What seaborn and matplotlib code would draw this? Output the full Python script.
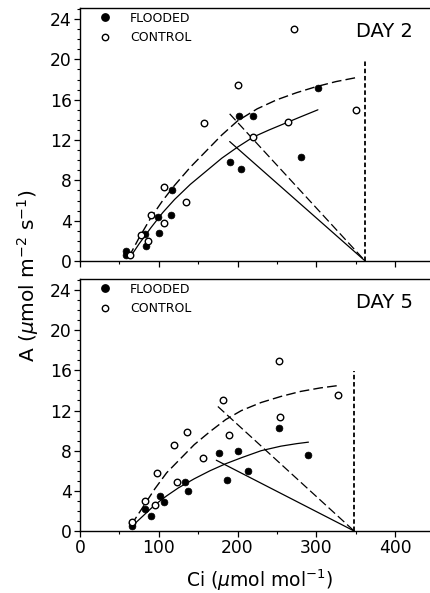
import matplotlib
matplotlib.use("Agg")
import matplotlib.pyplot as plt
from matplotlib.lines import Line2D
from matplotlib.ticker import MultipleLocator
import seaborn as sns

# ---------------- data ----------------
# Day 2 observations
d2_flood_ci = [59, 59, 82, 84, 99, 100, 115, 117, 190, 205, 202, 219, 280, 302]
d2_flood_a = [1.0, 0.6, 2.65, 1.5, 4.4, 2.75, 4.6, 7.0, 9.8, 9.1, 14.35, 14.4, 10.3, 17.15]
d2_ctrl_ci = [63, 78, 86, 90, 106, 107, 134, 157, 201, 220, 264, 272, 351]
d2_ctrl_a = [0.6, 2.55, 2.0, 4.55, 3.75, 7.35, 5.85, 13.65, 17.5, 12.3, 13.8, 23.0, 15.0]

# Day 5 observations
d5_flood_ci = [66, 66, 83, 90, 102, 107, 133, 137, 177, 186, 201, 213, 253, 290]
d5_flood_a = [0.45, 0.75, 2.15, 1.5, 3.5, 2.85, 4.85, 3.95, 7.8, 5.05, 7.95, 5.95, 10.25, 7.55]
d5_ctrl_ci = [66, 83, 95, 98, 119, 123, 136, 156, 181, 189, 253, 254, 328]
d5_ctrl_a = [0.85, 3.0, 2.6, 5.75, 8.55, 4.85, 9.9, 7.25, 13.0, 9.55, 16.9, 11.4, 13.5]

# fitted response curves
d2_ctrl_fit_ci = [62, 75, 90, 105, 120, 140, 160, 180, 200, 225, 250, 275, 300, 325, 351]
d2_ctrl_fit_a = [0.4, 2.3, 4.3, 6.0, 7.5, 9.3, 10.9, 12.5, 13.9, 15.1, 16.0, 16.7, 17.3, 17.8, 18.2]
d2_flood_fit_ci = [63, 75, 90, 105, 120, 140, 160, 180, 200, 220, 240, 260, 280, 302]
d2_flood_fit_a = [0.3, 1.7, 3.3, 4.8, 6.1, 7.6, 8.9, 10.2, 11.3, 12.3, 13.0, 13.65, 14.3, 15.0]
d5_ctrl_fit_ci = [65, 80, 95, 110, 125, 145, 165, 185, 205, 230, 255, 280, 305, 329]
d5_ctrl_fit_a = [0.6, 2.4, 4.2, 5.8, 7.0, 8.6, 9.9, 11.1, 12.0, 12.8, 13.4, 13.9, 14.25, 14.5]
d5_flood_fit_ci = [65, 80, 95, 110, 125, 145, 165, 185, 205, 230, 255, 275, 290]
d5_flood_fit_a = [0.4, 1.5, 2.6, 3.5, 4.3, 5.2, 6.0, 6.7, 7.3, 8.0, 8.45, 8.7, 8.85]

# supply functions (start point, Ca intercept)
d2_ctrl_supply_ci = [190, 362]
d2_ctrl_supply_a = [14.6, 0]
d2_flood_supply_ci = [190, 362]
d2_flood_supply_a = [11.85, 0]
d5_ctrl_supply_ci = [175, 348]
d5_ctrl_supply_a = [12.4, 0]
d5_flood_supply_ci = [173, 348]
d5_flood_supply_a = [7.05, 0]

# ambient CO2 markers
d2_ca = 362
d2_ca_top = 20.0
d5_ca = 348
d5_ca_top = 15.9

panel_titles = ["DAY 2", "DAY 5"]
legend_labels = ["FLOODED", "CONTROL"]
x_ticks = [0, 100, 200, 300, 400]
y_ticks = [0, 4, 8, 12, 16, 20, 24]

# ---------------- style ----------------
sns.set_style("ticks")
plt.rcParams["font.family"] = ["DejaVu Sans"]
plt.rcParams["mathtext.fontset"] = "dejavusans"
plt.rcParams["mathtext.default"] = "regular"
plt.rcParams["text.color"] = "black"
plt.rcParams["axes.labelcolor"] = "black"
plt.rcParams["xtick.color"] = "black"
plt.rcParams["ytick.color"] = "black"
plt.rcParams["axes.edgecolor"] = "black"

W, H = 430, 593
fig = plt.figure(figsize=(W / 100, H / 100), dpi=100)

left = 80 / W
right = 440 / W
ax_top = fig.add_axes([left, 1 - 261 / H, right - left, (261 - 8) / H])
ax_bot = fig.add_axes([left, 1 - 531 / H, right - left, (531 - 279) / H])

panels = [
    (ax_top, d2_flood_ci, d2_flood_a, d2_ctrl_ci, d2_ctrl_a,
     d2_ctrl_fit_ci, d2_ctrl_fit_a, d2_flood_fit_ci, d2_flood_fit_a,
     d2_ctrl_supply_ci, d2_ctrl_supply_a, d2_flood_supply_ci, d2_flood_supply_a,
     d2_ca, d2_ca_top, panel_titles[0]),
    (ax_bot, d5_flood_ci, d5_flood_a, d5_ctrl_ci, d5_ctrl_a,
     d5_ctrl_fit_ci, d5_ctrl_fit_a, d5_flood_fit_ci, d5_flood_fit_a,
     d5_ctrl_supply_ci, d5_ctrl_supply_a, d5_flood_supply_ci, d5_flood_supply_a,
     d5_ca, d5_ca_top, panel_titles[1]),
]

dash_long = (7, 3)
for (ax, fci, fa, cci, ca, cfx, cfy, ffx, ffy, csx, csy, fsx, fsy,
     ca_x, ca_top, title) in panels:
    # fitted curves
    sns.lineplot(x=cfx, y=cfy, ax=ax, color="black", lw=1.0, sort=False,
                 estimator=None).lines[-1].set_dashes(dash_long)
    sns.lineplot(x=ffx, y=ffy, ax=ax, color="black", lw=0.9, sort=False,
                 estimator=None)
    # supply lines
    sns.lineplot(x=csx, y=csy, ax=ax, color="black", lw=0.9, sort=False,
                 estimator=None).lines[-1].set_dashes(dash_long)
    sns.lineplot(x=fsx, y=fsy, ax=ax, color="black", lw=0.9, sort=False,
                 estimator=None)
    # ambient CO2 line
    ax.vlines(ca_x, 0, ca_top, colors="black", linestyles=(0, (2.5, 1.5)), lw=1.3)
    # observations
    sns.scatterplot(x=fci, y=fa, ax=ax, color="black", s=24, marker="o",
                    edgecolor="black", linewidth=0.5, zorder=5)
    sns.scatterplot(x=cci, y=ca, ax=ax, facecolor="white", s=22, marker="o",
                    edgecolor="black", linewidth=1.0, zorder=5)

    ax.set_xlim(0, 457)
    ax.set_ylim(0, 25.1)
    ax.set_xticks(x_ticks)
    ax.set_yticks(y_ticks)
    ax.xaxis.set_minor_locator(MultipleLocator(50))
    ax.yaxis.set_minor_locator(MultipleLocator(1))
    ax.tick_params(axis="both", which="major", direction="out", length=4,
                   width=0.9, labelsize=12.3, pad=2, colors="black")
    ax.tick_params(axis="both", which="minor", direction="out", length=2.5,
                   width=0.8, colors="black")
    for sp in ["left", "bottom", "top"]:
        ax.spines[sp].set_linewidth(1.0)
        ax.spines[sp].set_color("black")
    ax.spines["right"].set_visible(False)
    ax.set_xlabel("")
    ax.set_ylabel("")

    ax.text(350, 22.75, title, fontsize=14, ha="left", va="center", color="black")

    handles = [
        Line2D([], [], ls="none", marker="o", markersize=5.3, color="black",
               markerfacecolor="black"),
        Line2D([], [], ls="none", marker="o", markersize=4.6, color="black",
               markerfacecolor="white", markeredgewidth=1.0),
    ]
    leg = ax.legend(handles, legend_labels, loc="upper left",
                    bbox_to_anchor=(0.052, 0.985), frameon=False, fontsize=9,
                    handlelength=1.0, handletextpad=1.5, labelspacing=0.5,
                    borderpad=0.0, borderaxespad=0.0)
    for t in leg.get_texts():
        t.set_color("black")

ax_top.tick_params(axis="x", labelbottom=False)
ax_bot.set_xlabel(r"Ci ($\mathit{\mu}$mol mol$^{-1}$)", fontsize=13.5,
                  labelpad=7, color="black")
fig.text(28 / W, 1 - 276 / H, r"A ($\mathit{\mu}$mol m$^{-2}$ s$^{-1}$)",
         rotation=90, ha="center", va="center", fontsize=14.5, color="black")

fig.savefig("out.png", dpi=100)
